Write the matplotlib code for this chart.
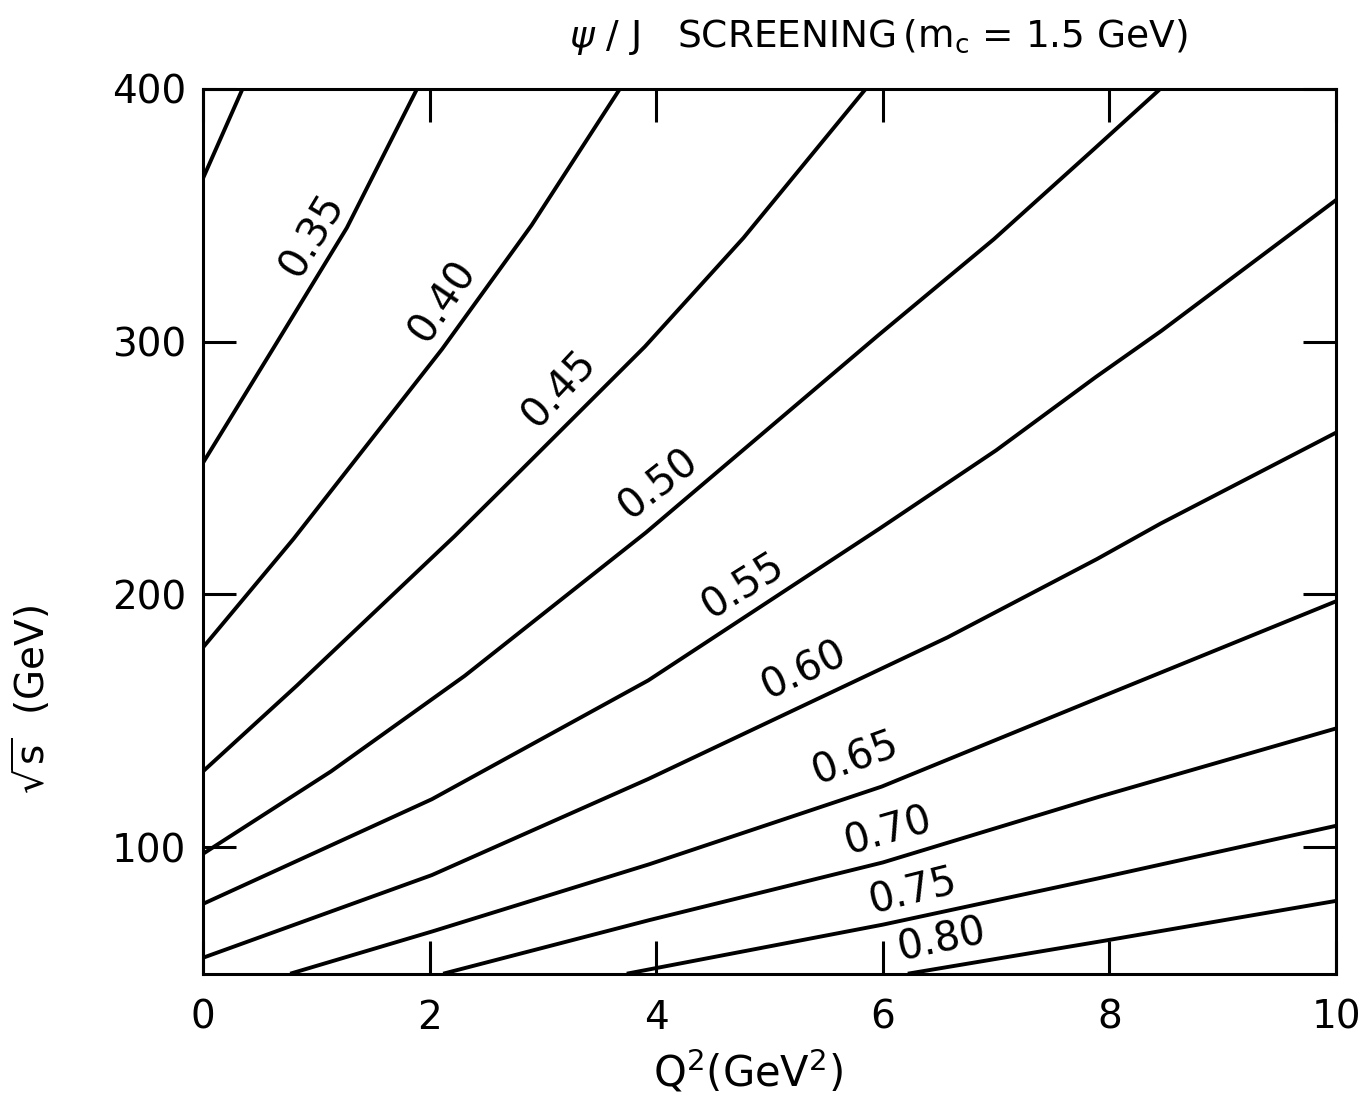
"""
psi/J screening contours in the (Q^2, sqrt(s)) plane, m_c = 1.5 GeV
"""

import matplotlib
matplotlib.use('Agg')
import matplotlib.pyplot as plt

# contour values and the points: Q^2 (GeV^2), sqrt(s) (GeV)
levels = ['0.30', '0.35', '0.40', '0.45', '0.50', '0.55', '0.60', '0.65', '0.70', '0.75', '0.80']

q2_030 = [0.0, 0.35]
rs_030 = [364.5, 400.0]

q2_035 = [0.0, 0.63, 1.27, 1.89]
rs_035 = [252.0, 298.0, 345.0, 400.0]

q2_040 = [0.0, 0.80, 2.11, 2.90, 3.68]
rs_040 = [179.0, 222.0, 297.0, 346.0, 400.0]

q2_045 = [0.0, 0.83, 2.22, 2.67, 3.90, 4.77, 5.85]
rs_045 = [130.0, 164.0, 223.0, 243.0, 298.0, 341.0, 400.0]

q2_050 = [0.0, 1.13, 2.31, 3.91, 5.96, 6.98, 7.86, 8.45]
rs_050 = [97.4, 130.0, 167.8, 224.5, 302.5, 340.5, 376.0, 400.0]

q2_055 = [0.0, 2.02, 3.93, 5.97, 7.00, 7.88, 8.46, 10.0]
rs_055 = [77.6, 119.0, 166.0, 226.0, 257.0, 286.0, 304.3, 356.0]

q2_060 = [0.0, 2.02, 3.93, 6.57, 7.89, 8.45, 10.0]
rs_060 = [56.3, 89.0, 127.0, 183.0, 214.0, 228.0, 264.0]

q2_065 = [0.77, 2.03, 3.94, 5.99, 7.90, 10.0]
rs_065 = [50.0, 66.8, 93.3, 124.0, 159.0, 197.3]

q2_070 = [2.12, 3.94, 6.00, 7.91, 10.0]
rs_070 = [50.0, 71.2, 94.0, 120.0, 147.0]

q2_075 = [3.74, 6.00, 7.90, 10.0]
rs_075 = [50.0, 69.4, 87.7, 108.5]

q2_080 = [6.22, 7.95, 10.0]
rs_080 = [50.0, 63.0, 78.8]

curves_q2 = [q2_030, q2_035, q2_040, q2_045, q2_050, q2_055,
             q2_060, q2_065, q2_070, q2_075, q2_080]
curves_rs = [rs_030, rs_035, rs_040, rs_045, rs_050, rs_055,
             rs_060, rs_065, rs_070, rs_075, rs_080]

# where the numbers are written next to the curves (the 0.30 curve has none)
label_q2 = [None, 0.97, 2.12, 3.15, 4.02, 4.77, 5.30, 5.76, 6.05, 6.27, 6.52]
label_rs = [None, 342.0, 316.0, 281.0, 243.5, 203.0, 170.0, 135.0, 106.0, 82.5, 63.0]
label_rot = [None, 59, 56, 47, 38, 32, 25, 20, 16, 14, 12]

x_ticks = [0, 2, 4, 6, 8, 10]
y_ticks = [100, 200, 300, 400]

plt.rcParams['font.family'] = ['DejaVu Sans']
plt.rcParams['mathtext.fontset'] = 'dejavusans'

fig = plt.figure(figsize=(13.62, 11.09), dpi=100)
ax = fig.add_axes([0.149, 0.122, 0.832, 0.798])

for i in range(len(levels)):
    ax.plot(curves_q2[i], curves_rs[i], color='black', linewidth=2.8,
            solid_capstyle='butt', solid_joinstyle='round')
    if label_q2[i] is not None:
        ax.text(label_q2[i], label_rs[i], levels[i], fontsize=29,
                rotation=label_rot[i], rotation_mode='anchor',
                ha='center', va='center')

ax.set_xlim(0, 10)
ax.set_ylim(50, 400)
ax.set_xticks(x_ticks)
ax.set_yticks(y_ticks)
ax.set_xticklabels([str(t) for t in x_ticks])
ax.set_yticklabels([str(t) for t in y_ticks])

for sp in ax.spines.values():
    sp.set_linewidth(2.2)

ax.tick_params(direction='in', length=24, width=2.2, top=True, right=True,
               labelsize=28)
ax.tick_params(axis='x', pad=18)
ax.tick_params(axis='y', pad=12)

ax.set_xlabel(r'Q$^2$(GeV$^2$)', fontsize=30)
ax.xaxis.set_label_coords(0.481, -0.111)
ax.xaxis.label.set_va('center')

ax.set_ylabel(r'$\sqrt{\mathrm{s}}$  (GeV)', fontsize=28)
ax.yaxis.set_label_coords(-0.151, 0.31)
ax.yaxis.label.set_va('center')

ax.text(0.596, 1.058, r'$\psi$ / J   SCREENING$\,$(m$_\mathrm{c}$ = 1.5 GeV)',
        transform=ax.transAxes, fontsize=27, ha='center', va='center')

fig.savefig('out.png', dpi=100, facecolor='white')
